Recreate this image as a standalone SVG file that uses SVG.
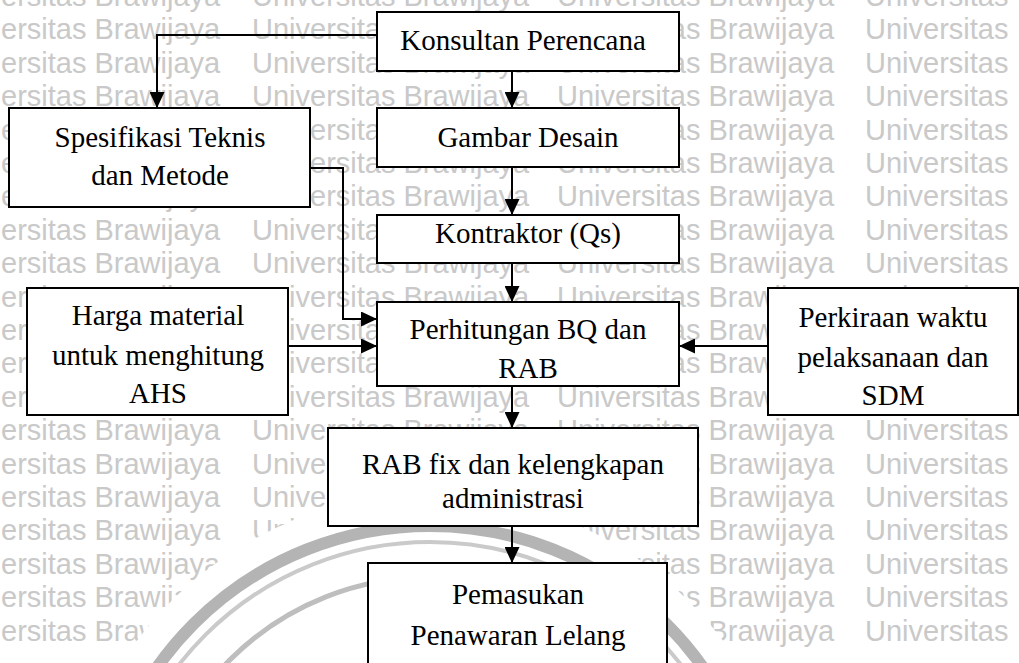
<svg xmlns="http://www.w3.org/2000/svg" xmlns:xlink="http://www.w3.org/1999/xlink" width="1019" height="663" viewBox="0 0 1019 663">
  <style>
    .wm { font-family: "Liberation Sans", Arial, sans-serif; font-size: 29px; fill: #c9c9c9; }
    .box { fill: #ffffff; stroke: #000000; stroke-width: 2; }
    .lbl { font-family: "Liberation Serif", "Times New Roman", serif; font-size: 29px; fill: #000000; text-anchor: middle; }
    .edge { fill: none; stroke: #000000; stroke-width: 2; }
  </style>
  <defs>
    <marker id="arrow" markerUnits="userSpaceOnUse" markerWidth="16" markerHeight="15" refX="16" refY="7.5" orient="auto">
      <path d="M0,0 L16,7.5 L0,15 z" fill="#000000"/>
    </marker>
    <!-- one line of the background watermark, repeated down the page -->
    <text id="wmrow" class="wm"><tspan x="1">ersitas Brawijaya</tspan><tspan x="252">Universitas Brawijaya</tspan><tspan x="557">Universitas Brawijaya</tspan><tspan x="865">Universitas</tspan></text>
  </defs>

  <rect x="0" y="0" width="1019" height="663" fill="#ffffff"/>

  <!-- watermark lines -->
  <g id="watermark">
    <use href="#wmrow" y="6"/>
    <use href="#wmrow" y="39.4"/>
    <use href="#wmrow" y="72.8"/>
    <use href="#wmrow" y="106.2"/>
    <use href="#wmrow" y="139.6"/>
    <use href="#wmrow" y="173"/>
    <use href="#wmrow" y="206.4"/>
    <use href="#wmrow" y="239.8"/>
    <use href="#wmrow" y="273.2"/>
    <use href="#wmrow" y="306.6"/>
    <use href="#wmrow" y="340"/>
    <use href="#wmrow" y="373.4"/>
    <use href="#wmrow" y="406.8"/>
    <use href="#wmrow" y="440.2"/>
    <use href="#wmrow" y="473.6"/>
    <use href="#wmrow" y="507"/>
    <use href="#wmrow" y="540.4"/>
    <use href="#wmrow" y="573.8"/>
    <use href="#wmrow" y="607.2"/>
    <use href="#wmrow" y="640.6"/>
  </g>

  <!-- circular seal behind the lower part of the chart -->
  <g id="seal">
    <circle cx="430" cy="860" r="366" fill="#ffffff"/>
    <circle cx="430" cy="860" r="334" fill="none" stroke="#b4b4b4" stroke-width="12"/>
    <circle cx="430" cy="860" r="318" fill="none" stroke="#cacaca" stroke-width="4"/>
    <circle cx="430" cy="860" r="283" fill="none" stroke="#bebebe" stroke-width="5"/>
  </g>

  <g id="connectors">
    <path class="edge" d="M377,35 H157 V108" marker-end="url(#arrow)"/>
    <path class="edge" d="M512,71 V108" marker-end="url(#arrow)"/>
    <path class="edge" d="M512,167 V215" marker-end="url(#arrow)"/>
    <path class="edge" d="M512,263 V302" marker-end="url(#arrow)"/>
    <path class="edge" d="M310,168 H343 V319 H377" marker-end="url(#arrow)"/>
    <path class="edge" d="M288,346 H377" marker-end="url(#arrow)"/>
    <path class="edge" d="M768,346 H679" marker-end="url(#arrow)"/>
    <path class="edge" d="M512,386 V428" marker-end="url(#arrow)"/>
    <path class="edge" d="M512,526 V563" marker-end="url(#arrow)"/>
  </g>

  <g id="konsultan">
    <rect class="box" x="377" y="12" width="302" height="59"/>
    <text class="lbl" x="523" y="50">Konsultan Perencana</text>
  </g>

  <g id="spesifikasi">
    <rect class="box" x="9" y="108" width="301" height="99"/>
    <text class="lbl" x="160" y="147">Spesifikasi Teknis</text>
    <text class="lbl" x="160" y="185">dan Metode</text>
  </g>

  <g id="gambar">
    <rect class="box" x="377" y="108" width="302" height="59"/>
    <text class="lbl" x="528" y="147">Gambar Desain</text>
  </g>

  <g id="kontraktor">
    <rect class="box" x="377" y="215" width="302" height="48"/>
    <text class="lbl" x="528" y="243">Kontraktor (Qs)</text>
  </g>

  <g id="perhitungan">
    <rect class="box" x="377" y="302" width="302" height="84"/>
    <text class="lbl" x="528" y="339">Perhitungan BQ dan</text>
    <text class="lbl" x="528" y="378">RAB</text>
  </g>

  <g id="harga">
    <rect class="box" x="27" y="288" width="261" height="127"/>
    <text class="lbl" x="158" y="325">Harga material</text>
    <text class="lbl" x="158" y="365">untuk menghitung</text>
    <text class="lbl" x="158" y="403">AHS</text>
  </g>

  <g id="perkiraan">
    <rect class="box" x="768" y="288" width="250" height="127"/>
    <text class="lbl" x="893" y="327">Perkiraan waktu</text>
    <text class="lbl" x="893" y="367">pelaksanaan dan</text>
    <text class="lbl" x="893" y="405">SDM</text>
  </g>

  <g id="rab-fix">
    <rect class="box" x="328" y="428" width="370" height="98"/>
    <text class="lbl" x="513" y="474">RAB fix dan kelengkapan</text>
    <text class="lbl" x="513" y="508">administrasi</text>
  </g>

  <g id="pemasukan">
    <rect class="box" x="368" y="563" width="299" height="120"/>
    <text class="lbl" x="518" y="604">Pemasukan</text>
    <text class="lbl" x="518" y="645">Penawaran Lelang</text>
  </g>
</svg>
